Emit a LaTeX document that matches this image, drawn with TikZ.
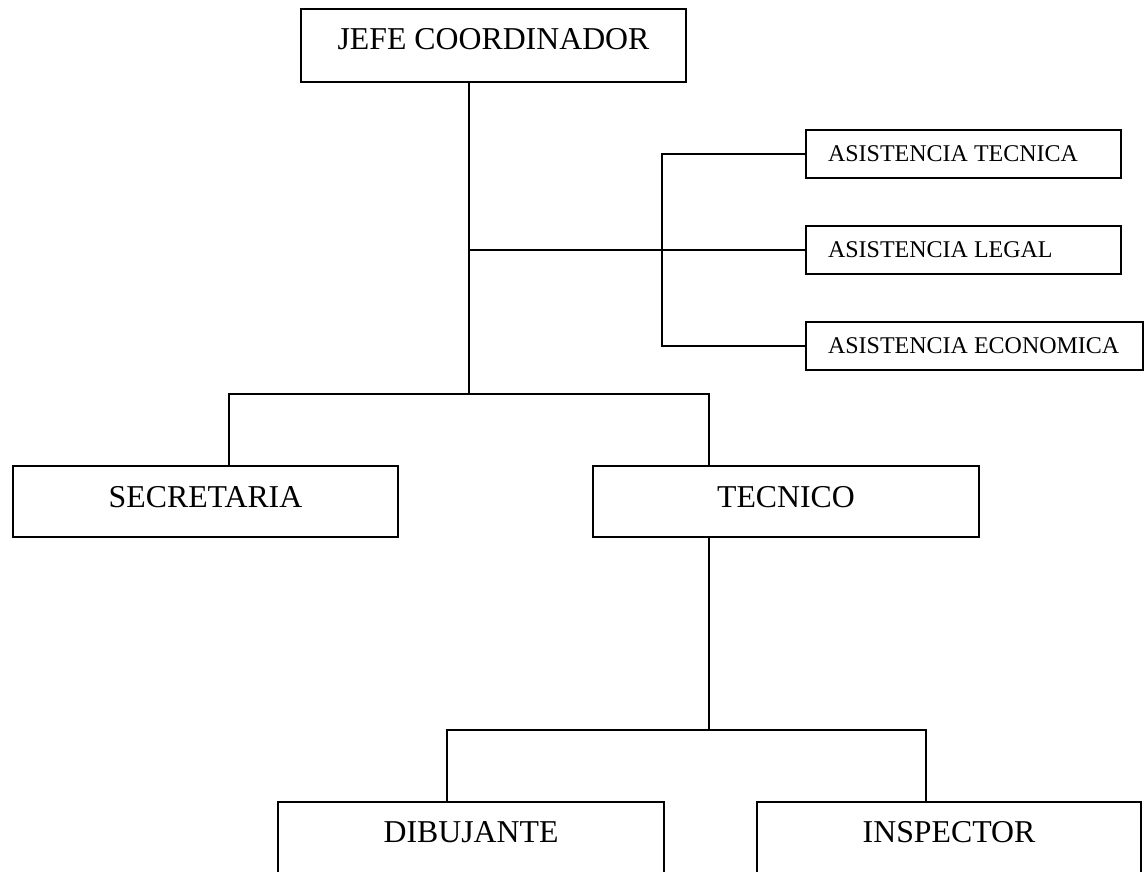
\documentclass[tikz,border=0pt]{standalone}
\usepackage{fontspec}
\setmainfont{Liberation Serif}
\tikzset{
  orgbox/.style={draw=black, line width=2pt, inner sep=0pt, text height=20.8pt},
  bigtext/.style={font=\fontsize{31.8}{38}\selectfont},
  smalltext/.style={font=\fontsize{24}{29}\selectfont, text height=15.7pt, text depth=0pt},
  link/.style={draw=black, line width=2pt}
}
\newcommand{\leftlabel}[2]{\makebox[#1][l]{#2}}
\begin{document}
\begin{tikzpicture}[x=1pt,y=-1pt]
\useasboundingbox (0,0) rectangle (1147,871);
\clip (0,0) rectangle (1147,871);

% boxes
\node[orgbox, bigtext, minimum width=385pt, minimum height=73pt, text depth=13pt] (jefe) at (493.5,45.5) {JEFE COORDINADOR};

\node[orgbox, smalltext, minimum width=315pt, minimum height=48pt] (at) at (963.5,154) {\leftlabel{271pt}{ASISTENCIA TECNICA}};
\node[orgbox, smalltext, minimum width=315pt, minimum height=48pt] (al) at (963.5,250) {\leftlabel{271pt}{ASISTENCIA LEGAL}};
\node[orgbox, smalltext, minimum width=337pt, minimum height=48pt] (ae) at (974.5,346) {\leftlabel{293pt}{ASISTENCIA ECONOMICA}};

\node[orgbox, bigtext, minimum width=385pt, minimum height=71pt, text depth=9pt] (secr) at (205.5,501.5) {SECRETARIA};
\node[orgbox, bigtext, minimum width=386pt, minimum height=71pt, text depth=9pt] (tec) at (786,501.5) {TECNICO};

\node[orgbox, bigtext, minimum width=386pt, minimum height=100pt, text depth=40pt] (dib) at (471,852) {DIBUJANTE};
\node[orgbox, bigtext, minimum width=384pt, minimum height=100pt, text depth=40pt] (insp) at (949,852) {INSPECTOR};

% junction points
\coordinate (jt) at (469,394);
\coordinate (jb) at (469,250);
\coordinate (ab) at (662,250);
\coordinate (sj) at (229,394);
\coordinate (tj) at (709,394);
\coordinate (tb) at (709,730);
\coordinate (dj) at (447,730);
\coordinate (ij) at (926,730);

% connectors
\draw[link] (jefe.south -| jt) -- (jt);
\draw[link] (jb) -- (al.west);
\draw[link] (at.west) -- (at.west -| ab) -- (ae.west -| ab) -- (ae.west);
\draw[link] (sj |- secr.north) -- (sj) -- (tj) -- (tj |- tec.north);
\draw[link] (tec.south -| tb) -- (tb);
\draw[link] (dj |- dib.north) -- (dj) -- (ij) -- (ij |- insp.north);
\end{tikzpicture}
\end{document}
